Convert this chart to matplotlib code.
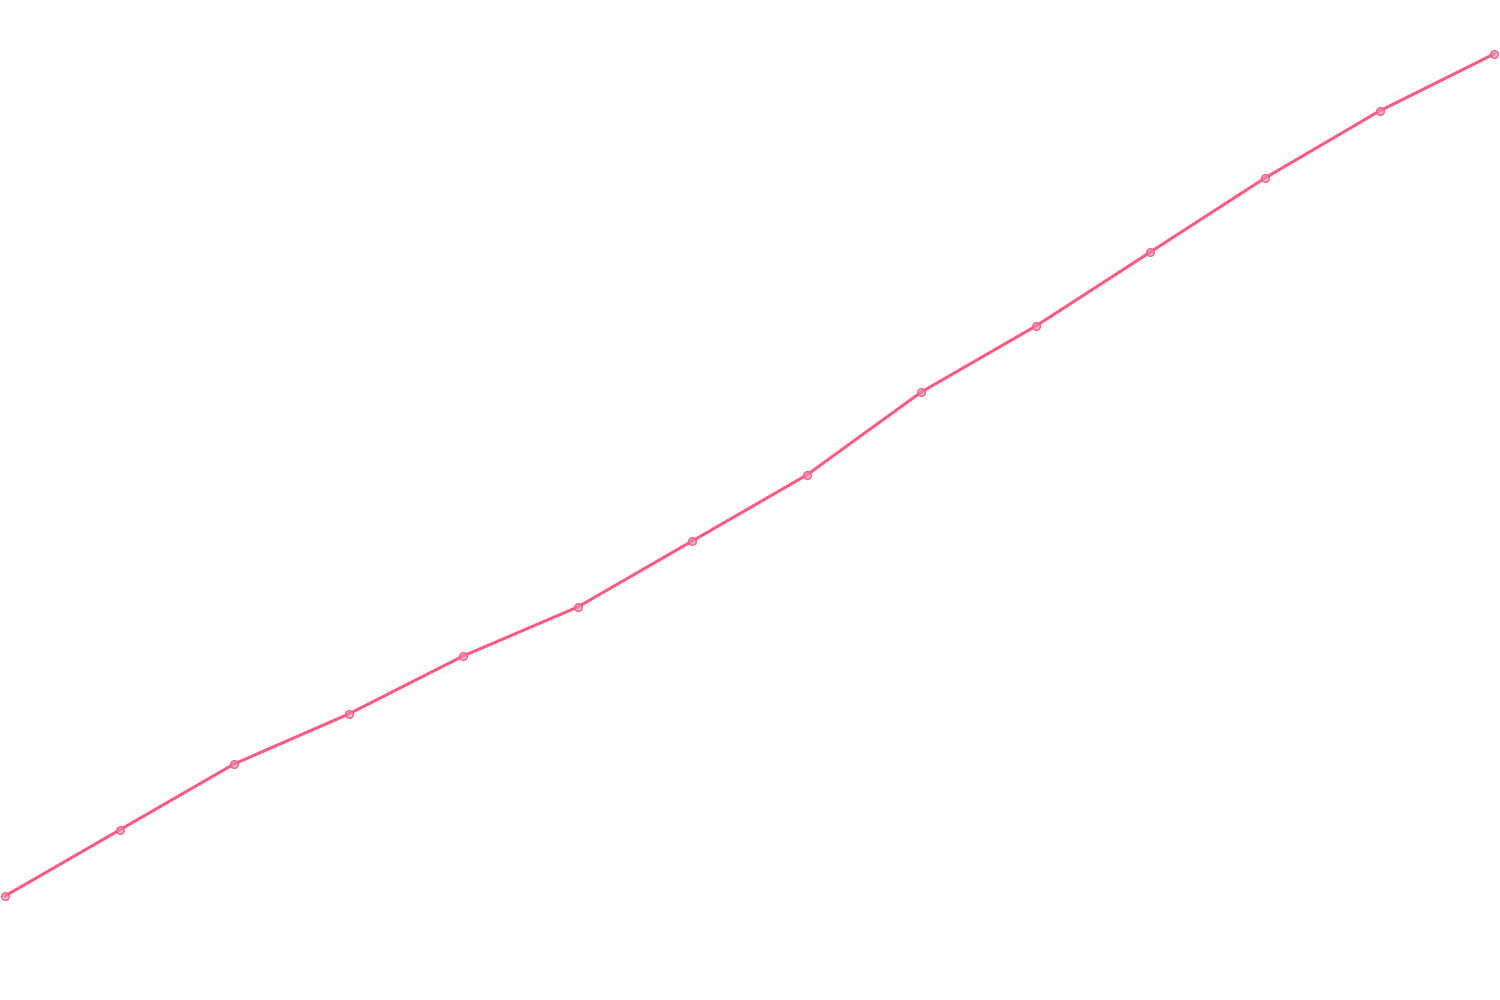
import numpy as np
import matplotlib.pyplot as plt

# values (arbitrary units, 0-1000 scale)
steps = list(range(14))
values = [104, 170, 236, 286, 344, 393, 459, 525, 608, 674, 748, 822, 889, 946]

fig = plt.figure(figsize=(15, 10), dpi=100)
ax = fig.add_axes([0, 0, 1, 1])

ax.plot(steps, values, color='#ff5a82', linewidth=2.2, solid_capstyle='round',
        marker='o', markersize=5.5, markerfacecolor=(1.0, 0.55, 0.68, 0.6),
        markeredgecolor='#f0608a', markeredgewidth=1.0)

ax.set_xlim(-0.044, 13.052)
ax.set_ylim(0, 1000)
ax.axis('off')

fig.savefig('out.png', dpi=100, facecolor='white')
